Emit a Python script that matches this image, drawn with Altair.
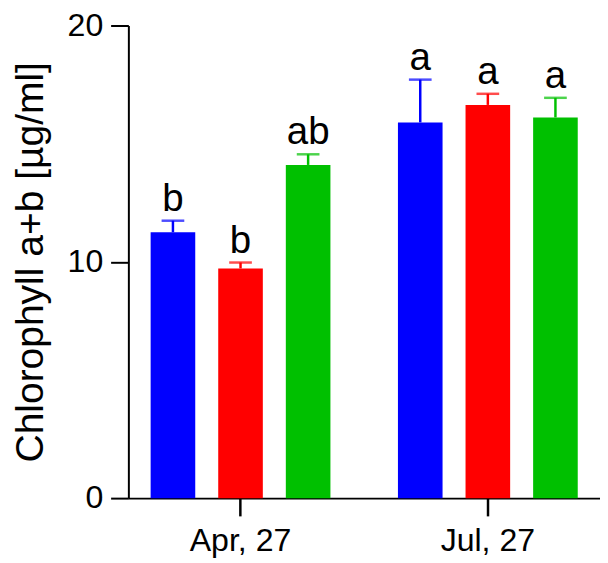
import altair as alt
import pandas as pd

dates = ["Apr, 27", "Jul, 27"]
treatments = ["T1", "T2", "T3"]
colors = ["#0000FF", "#FF0000", "#00C000"]
apr_means = [11.25, 9.72, 14.10]
apr_errs = [0.49, 0.25, 0.45]
jul_means = [15.90, 16.64, 16.11]
jul_errs = [1.81, 0.47, 0.83]
apr_letters = ["b", "b", "ab"]
jul_letters = ["a", "a", "a"]

rows = []
for d, means, errs, letters in [(dates[0], apr_means, apr_errs, apr_letters),
                                (dates[1], jul_means, jul_errs, jul_letters)]:
    for t, m, e, l in zip(treatments, means, errs, letters):
        rows.append({"date": d, "treatment": t, "mean": m, "top": m + e, "letter": l})
df = pd.DataFrame(rows)

FONT = "Liberation Sans"

x_enc = alt.X("date:N", sort=dates,
              scale=alt.Scale(paddingInner=0.273, paddingOuter=0.09),
              axis=alt.Axis(title=None, labelAngle=0, tickSize=18, tickWidth=2.5,
                            labelPadding=9, labelFontSize=32.5))
xo_enc = alt.XOffset("treatment:N", sort=treatments,
                     scale=alt.Scale(paddingInner=0.34, paddingOuter=0))
col_enc = alt.Color("treatment:N", scale=alt.Scale(domain=treatments, range=colors), legend=None)
y_scale = alt.Scale(domain=[0, 20], nice=False)

base = alt.Chart(df).encode(x=x_enc, xOffset=xo_enc)

bars = base.mark_bar().encode(
    y=alt.Y("mean:Q", scale=y_scale,
            axis=alt.Axis(values=[0, 10, 20], title="Chlorophyll a+b [µg/ml]",
                          tickSize=18, tickWidth=2, labelPadding=8, labelFontSize=32.5,
                          titleFontSize=39.5, titleFontWeight="normal",
                          titleX=-87, titleY=239.5, titleAngle=-90,
                          titleBaseline="alphabetic", titleAlign="center")),
    color=col_enc,
)
whisk = base.mark_rule(strokeWidth=2.5).encode(y=alt.Y("mean:Q", scale=y_scale), y2="top:Q", color=col_enc)
caps = base.mark_tick(thickness=2.5, size=23).encode(y=alt.Y("top:Q", scale=y_scale), color=col_enc)
labels = base.mark_text(fontSize=39, dy=-10, baseline="alphabetic", color="black", font=FONT).encode(
    y=alt.Y("top:Q", scale=y_scale), text="letter:N")

chart = alt.layer(bars, whisk, caps, labels).properties(
    width=478, height=479,
    autosize=alt.AutoSizeParams(type="none"),
    padding={"left": 122, "top": 14, "right": 0, "bottom": 62},
).configure_view(stroke=None).configure_axis(
    grid=False, domainColor="black", domainWidth=2, tickColor="black",
    labelColor="black", titleColor="black", labelFont=FONT, titleFont=FONT,
).configure_text(font=FONT)

chart.save("out.html", embed_options={"renderer": "svg", "actions": False})
